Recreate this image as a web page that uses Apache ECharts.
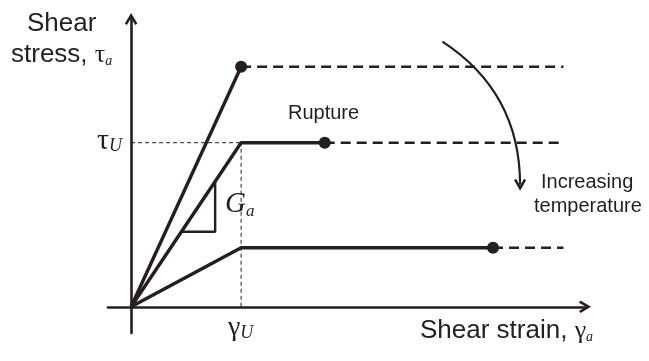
<!DOCTYPE html>
<html lang="en">
<head>
  <meta charset="UTF-8">
  <title>Shear stress vs strain</title>
  <style>
    html, body { margin: 0; height: 100%; width: 100%; background: #fff; }
  </style>
</head>
<body>
  <div id="chart" style="width:649px;height:361px"></div>
  <script src="https://cdn.jsdelivr.net/npm/echarts@6/dist/echarts.min.js"></script>
  <script>
    // strain normalised by gamma_U, stress normalised by tau_U
    const yieldStrain = 1.0
    const plateauStress = [1.463, 1.0, 0.36]
    const ruptureStrain = [1.0, 1.76, 3.29]
    const dashEndStrain = 3.93
    const tauU = 1.0
    const gammaU = 1.0
    const slopeTriangle = [[0.457, 0.457], [0.764, 0.457], [0.764, 0.764]]
    const tempArrow = [[2.83, 1.616], [3.536, 0.744]]

    const ink = '#231f20'
    // open arrow head, tip at top
    const chevron = 'path://M0,8.4 L5,0 L10,8.4 L8.3,9.6 L5,4 L1.7,9.6 Z'

    const series = []
    plateauStress.forEach(function (s, i) {
      const pts = [[0, 0], [yieldStrain, s]]
      if (ruptureStrain[i] > yieldStrain) pts.push([ruptureStrain[i], s])
      series.push({
        type: 'line', data: pts, symbol: 'none', z: 3,
        lineStyle: { color: ink, width: 3.4 }
      })
      series.push({
        type: 'line', data: [[ruptureStrain[i], s], [dashEndStrain, s]], symbol: 'none', z: 2,
        lineStyle: { color: ink, width: 2.4, type: [10, 6] }
      })
    })

    // rupture dots
    series.push({
      type: 'scatter', z: 4,
      data: ruptureStrain.map(function (x, i) { return [x, plateauStress[i]] }),
      symbolSize: 12,
      itemStyle: { color: ink, opacity: 1 }
    })

    // tau_U and gamma_U guides
    series.push({
      type: 'line', data: [[0, tauU], [gammaU, tauU]], symbol: 'none', z: 1,
      lineStyle: { color: ink, width: 1, type: [4, 3] }
    })
    series.push({
      type: 'line', data: [[gammaU, 0], [gammaU, tauU]], symbol: 'none', z: 1,
      lineStyle: { color: ink, width: 1, type: [4, 3] }
    })

    // slope triangle
    series.push({
      type: 'line', data: slopeTriangle, symbol: 'none', z: 3,
      lineStyle: { color: ink, width: 2.4 }
    })

    // increasing temperature arrow
    series.push({
      type: 'lines', coordinateSystem: 'cartesian2d', z: 3,
      symbol: ['none', chevron], symbolSize: [16, 12],
      lineStyle: { color: ink, width: 2.2, curveness: 0.27, opacity: 1 },
      data: [{ coords: tempArrow }]
    })

    const serif = '"Liberation Serif", "DejaVu Serif", serif'
    const sans = '"Liberation Sans", Arial, sans-serif'
    const sub = function (size, pad) {
      return { font: 'italic ' + size + 'px ' + serif, fill: ink, padding: [pad, 0, 0, 0] }
    }

    const option = {
      animation: false,
      grid: { left: 108, right: 64, top: 19, bottom: 28 },
      xAxis: {
        type: 'value', min: -0.21, max: 4.126,
        splitLine: { show: false }, axisTick: { show: false }, axisLabel: { show: false },
        axisLine: { onZero: true, symbol: ['none', chevron], symbolSize: [17, 12],
          lineStyle: { color: ink, width: 2.6 } }
      },
      yAxis: {
        type: 'value', min: -0.16, max: 1.754,
        splitLine: { show: false }, axisTick: { show: false }, axisLabel: { show: false },
        axisLine: { onZero: true, symbol: ['none', chevron], symbolSize: [17, 12],
          lineStyle: { color: ink, width: 2.6 } }
      },
      graphic: [
        { type: 'text', left: 27, top: 11, style: { text: 'Shear', font: '26px ' + sans, fill: ink } },
        { type: 'text', left: 11, top: 42, style: {
          text: 'stress, {t|τ}{s|a}', font: '26px ' + sans, fill: ink,
          rich: { t: { font: '26px ' + serif, fill: ink }, s: sub(14, 13) }
        } },
        { type: 'text', left: 420, top: 318, style: {
          text: 'Shear strain, {t|γ}{s|a}', font: '26px ' + sans, fill: ink,
          rich: { t: { font: '26px ' + serif, fill: ink }, s: sub(14, 13) }
        } },
        { type: 'text', left: 97, top: 126, style: {
          text: '{t|τ}{s|U}', fill: ink,
          rich: { t: { font: '30px ' + serif, fill: ink }, s: sub(18, 10) }
        } },
        { type: 'text', left: 228, top: 314, style: {
          text: '{t|γ}{s|U}', fill: ink,
          rich: { t: { font: '28px ' + serif, fill: ink }, s: sub(18, 10) }
        } },
        { type: 'text', left: 225, top: 190, style: {
          text: '{t|G}{s|a}', fill: ink,
          rich: { t: { font: 'italic 29px ' + serif, fill: ink }, s: sub(17, 14) }
        } },
        { type: 'text', left: 288, top: 103, style: { text: 'Rupture', font: '20px ' + sans, fill: ink } },
        { type: 'text', left: 541, top: 172, style: { text: 'Increasing', font: '20px ' + sans, fill: ink } },
        { type: 'text', left: 534, top: 196, style: { text: 'temperature', font: '20px ' + sans, fill: ink } }
      ],
      series: series
    }

    const myChart = echarts.init(document.getElementById('chart'))
    myChart.setOption(option)
  </script>
</body>
</html>
